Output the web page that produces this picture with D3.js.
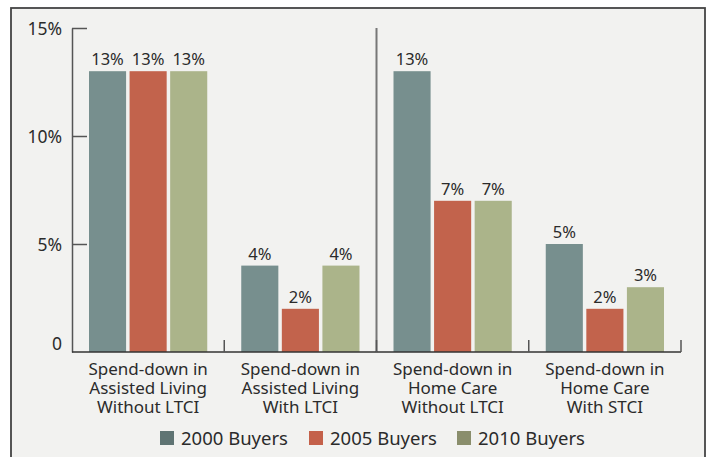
<!DOCTYPE html>
<html>
<head>
<meta charset="utf-8">
<script src="https://cdn.jsdelivr.net/npm/d3@7"></script>
<style>
  body { margin: 0; background: #fff; }
  text { font-family: "Noto Sans", sans-serif; fill: #2b2b2b; }
</style>
</head>
<body>
<div id="chart"></div>
<script>
var categories = [
    ["Spend-down in", "Assisted Living", "Without LTCI"],
    ["Spend-down in", "Assisted Living", "With LTCI"],
    ["Spend-down in", "Home Care", "Without LTCI"],
    ["Spend-down in", "Home Care", "With STCI"]
];
var seriesNames = ["2000 Buyers", "2005 Buyers", "2010 Buyers"];
var buyers2000 = [13, 4, 13, 5];
var buyers2005 = [13, 2, 7, 2];
var buyers2010 = [13, 4, 7, 3];
var yTicks = [0, 5, 10, 15];

var barColors = ["#778f8e", "#c2634c", "#abb48a"];
var legendColors = ["#5f7473", "#c4614a", "#8a8e6c"];

var width = 707,
    height = 457,
    margin = {top: 28, right: 26, bottom: 105, left: 72};

var series = [buyers2000, buyers2005, buyers2010];

var svg = d3.select("#chart")
    .append("svg")
    .attr("width", width)
    .attr("height", height);

// panel background + frame
svg.append("rect")
    .attr("x", 11).attr("y", 8)
    .attr("width", 694).attr("height", 460)
    .attr("fill", "#f2f2f0")
    .attr("stroke", "#444")
    .attr("stroke-width", 1.8);

var x0 = d3.scaleBand()
    .domain(d3.range(categories.length))
    .range([margin.left, width - margin.right]);

var x1 = d3.scaleBand()
    .domain(d3.range(series.length))
    .range([17, x0.bandwidth() - 17])
    .paddingInner(0.086);

var y = d3.scaleLinear()
    .domain([0, 15])
    .range([height - margin.bottom + 0, margin.top]);

// y axis
var yAxis = d3.axisLeft(y)
    .tickValues(yTicks)
    .tickSizeInner(-15)
    .tickSizeOuter(0)
    .tickPadding(10)
    .tickFormat(d => d === 0 ? "0" : d + "%");

var gy = svg.append("g")
    .attr("transform", "translate(" + margin.left + ",0)")
    .call(yAxis);
gy.select(".domain").attr("stroke", "#555").attr("stroke-width", 1.5);
gy.selectAll(".tick line").attr("stroke", "#555").attr("stroke-width", 1.5);
gy.selectAll(".tick text")
    .style("font-size", "17.5px")
    .attr("fill", "#2b2b2b")
    .attr("dy", d => d === 0 ? "-0.15em" : "0.35em");
gy.selectAll(".tick").filter(d => d === 0).select("line").remove();

// separator between assisted living and home care
svg.append("line")
    .attr("x1", x0(2)).attr("x2", x0(2))
    .attr("y1", y(15)).attr("y2", y(0))
    .attr("stroke", "#777")
    .attr("stroke-width", 2);

// bars
var groups = svg.selectAll(".group")
    .data(categories)
    .enter()
    .append("g")
    .attr("transform", (d, i) => "translate(" + x0(i) + ",0)");

groups.selectAll("rect")
    .data((d, i) => series.map((s, j) => ({s: j, v: s[i]})))
    .enter()
    .append("rect")
    .attr("x", d => x1(d.s))
    .attr("y", d => y(d.v))
    .attr("width", x1.bandwidth())
    .attr("height", d => y(0) - y(d.v))
    .attr("fill", d => barColors[d.s]);

groups.selectAll(".val")
    .data((d, i) => series.map((s, j) => ({s: j, v: s[i]})))
    .enter()
    .append("text")
    .attr("class", "val")
    .attr("x", d => x1(d.s) + x1.bandwidth() / 2)
    .attr("y", d => y(d.v) - 6)
    .attr("text-anchor", "middle")
    .style("font-size", "16.5px")
    .text(d => d.v + "%");

// baseline with group ticks
svg.append("line")
    .attr("x1", margin.left).attr("x2", width - margin.right)
    .attr("y1", y(0)).attr("y2", y(0))
    .attr("stroke", "#333")
    .attr("stroke-width", 1.6);

svg.selectAll(".gtick")
    .data(d3.range(categories.length))
    .enter()
    .append("line")
    .attr("x1", d => x0(d) + x0.bandwidth())
    .attr("x2", d => x0(d) + x0.bandwidth())
    .attr("y1", y(0) - 12)
    .attr("y2", y(0))
    .attr("stroke", "#555")
    .attr("stroke-width", 1.5);

// category labels
var labels = svg.selectAll(".cat")
    .data(categories)
    .enter()
    .append("text")
    .attr("class", "cat")
    .attr("text-anchor", "middle")
    .style("font-size", "17px")
    .attr("transform", (d, i) => "translate(" + (x0(i) + x0.bandwidth() / 2) + "," + (y(0) + 23) + ")");

labels.selectAll("tspan")
    .data(d => d)
    .enter()
    .append("tspan")
    .attr("x", 0)
    .attr("y", (d, i) => i * 19)
    .text(d => d);

// legend
var legendX = [160, 309, 457];
var legend = svg.selectAll(".legend")
    .data(seriesNames)
    .enter()
    .append("g")
    .attr("transform", (d, i) => "translate(" + legendX[i] + ",431)");

legend.append("rect")
    .attr("width", 14)
    .attr("height", 14)
    .attr("fill", (d, i) => legendColors[i]);

legend.append("text")
    .attr("x", 21)
    .attr("y", 14)
    .style("font-size", "18.5px")
    .text(d => d);
</script>
</body>
</html>
